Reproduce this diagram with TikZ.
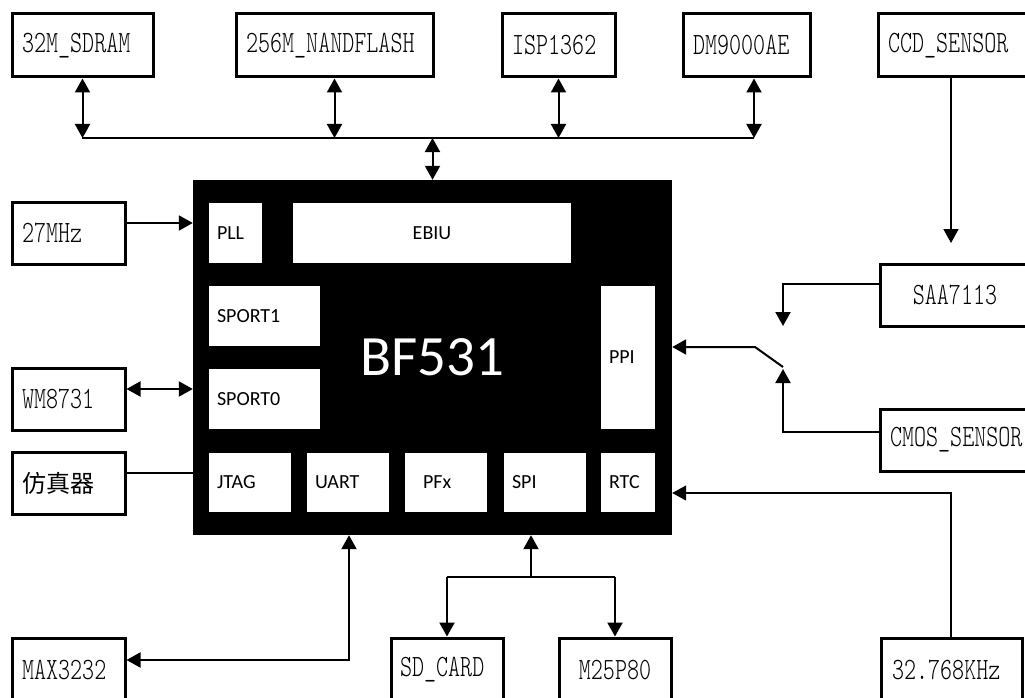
\documentclass[tikz,border=0pt]{standalone}
\usepackage{fontspec}
\usetikzlibrary{arrows.meta}
\newfontfamily\boxfont[FakeStretch=0.74]{lmmonolt10-regular.otf}
\newfontfamily\cnfont{Noto Sans CJK SC}
\newfontfamily\chipfont{Carlito}
\begin{document}
\begin{tikzpicture}[x=1pt,y=-1pt,
  ext/.style={draw, line width=3pt, fill=white, inner ysep=0pt, font=\boxfont\fontsize{31}{32}\selectfont},
  extL/.style={ext, inner xsep=10pt, align=left},
  extC/.style={ext, align=center},
  blk/.style={fill=white, inner ysep=0pt, inner xsep=8pt, font=\chipfont\fontsize{20}{24}\selectfont, align=left},
  chipbox/.style={fill=black, text=white, font=\chipfont\fontsize{57}{60}\selectfont},
  arr/.style={line width=2pt, -{Triangle[length=14pt,width=15pt]}},
  dbl/.style={line width=2pt, {Triangle[length=14pt,width=15pt]}-{Triangle[length=14pt,width=15pt]}},
  wire/.style={line width=1.3pt},
  busline/.style={line width=2pt}]
\useasboundingbox (0,0) rectangle (1025,698);
% top boxes
\node[extL, minimum width=141, minimum height=63, text width=121] (sdram) at (82.5,45.5) {32M\_SDRAM};
\node[extL, minimum width=197, minimum height=63, text width=177] (nand) at (334.5,45.5) {256M\_NANDFLASH};
\node[extL, minimum width=113, minimum height=63, text width=93] (isp) at (558.5,45.5) {ISP1362};
\node[extL, minimum width=127, minimum height=63, text width=107] (dm) at (746.5,45.5) {DM9000AE};
\node[extL, minimum width=152, minimum height=63, text width=132] (ccd) at (954,45.5) {CCD\_SENSOR};
% left boxes
\node[extL, minimum width=113, minimum height=62, text width=93] (f27) at (68.5,233) {27MHz};
\node[extL, minimum width=113, minimum height=62, text width=93] (wm) at (68.5,399) {WM8731};
\node[extL, minimum width=113, minimum height=62, text width=93, font=\cnfont\fontsize{24}{26}\selectfont] (fzq) at (68.5,483) {仿真器};
% right boxes
\node[extC, minimum width=150, minimum height=62] (saa) at (955,295) {SAA7113};
\node[extL, minimum width=155, minimum height=62, text width=135] (cmos) at (957.5,440) {CMOS\_SENSOR};
% bottom boxes
\node[extL, minimum width=113, minimum height=64, text width=93] (max) at (68.5,670) {MAX3232};
\node[extL, minimum width=112, minimum height=64, text width=94, inner xsep=9pt] (sd) at (447,670) {SD\_CARD};
\node[extC, minimum width=112, minimum height=64] (m25) at (615,670) {M25P80};
\node[extL, minimum width=141, minimum height=64, text width=119, inner xsep=11pt] (khz) at (951.5,670) {32.768KHz};
% chip
\node[chipbox, minimum width=479, minimum height=355] (chip) at (432.5,357.5) {BF531};
\node[blk, minimum width=53, minimum height=60, text width=37] (pll) at (235.5,233) {PLL};
\node[blk, minimum width=278, minimum height=60, text width=262, align=center] (ebiu) at (432,233) {EBIU};
\node[blk, minimum width=111, minimum height=60, text width=95] (sport1) at (264.5,316) {SPORT1};
\node[blk, minimum width=111, minimum height=60, text width=95] (sport0) at (264.5,399) {SPORT0};
\node[blk, minimum width=54, minimum height=143, text width=38] (ppi) at (628,357.5) {PPI};
\node[blk, minimum width=82, minimum height=59, text width=66] (jtag) at (250,482.5) {JTAG};
\node[blk, minimum width=82, minimum height=59, text width=66] (uart) at (348,482.5) {UART};
\node[blk, minimum width=82, minimum height=59, text width=46, inner xsep=18pt] (pfx) at (446,482.5) {PFx};
\node[blk, minimum width=82, minimum height=59, text width=66] (spi) at (545,482.5) {SPI};
\node[blk, minimum width=54, minimum height=59, text width=38] (rtc) at (628,482.5) {RTC};
% bus
\coordinate (busL) at (82,138);
\coordinate (busR) at (754,138);
\draw[busline] (busL) -- (busR);
\draw[dbl] (sdram.south) -- (sdram.south |- busL);
\draw[dbl] (nand.south) -- (nand.south |- busL);
\draw[dbl] (isp.south) -- (isp.south |- busL);
\draw[dbl] ([xshift=7.5pt]dm.south) -- (busR);
\draw[dbl] (chip.north |- busL) -- (chip.north);
% left connections
\draw[arr] ([yshift=10pt]f27.east) -- ([yshift=10pt]f27.east -| chip.west);
\draw[dbl] ([yshift=10pt]wm.east) -- ([yshift=10pt]wm.east -| chip.west);
\draw[wire] ([yshift=10pt]fzq.east) -- ([yshift=10pt]fzq.east -| chip.west);
% video input
\coordinate (ccdtip) at (951,243);
\draw[arr, line width=1.6pt] (ccd.south -| ccdtip) -- (ccdtip);
\coordinate (swA) at (783,326);
\coordinate (swB) at (783,369);
\coordinate (swE) at (783,367);
\coordinate (swP) at (755,347);
\draw[arr] ([yshift=11pt]saa.west) -| (swA);
\draw[arr] ([yshift=8pt]cmos.west) -| (swB);
\draw[arr] (swE) -- (swP) -- (swP -| chip.east);
% RTC clock
\coordinate (rtcP) at (951,493);
\draw[arr, line width=1.3pt] (khz.north -| rtcP) -- (rtcP) -- (rtcP -| chip.east);
% UART
\coordinate (uP) at (349,660);
\draw[dbl] (uP |- chip.south) -- (uP) -- (uP -| max.east);
% SPI
\coordinate (sP) at (531,577);
\draw[arr] (sP) -- (sP |- chip.south);
\draw[busline] (sd.north |- sP) -- (m25.north |- sP);
\draw[arr] (sd.north |- sP) -- (sd.north);
\draw[arr] (m25.north |- sP) -- (m25.north);
\end{tikzpicture}
\end{document}
